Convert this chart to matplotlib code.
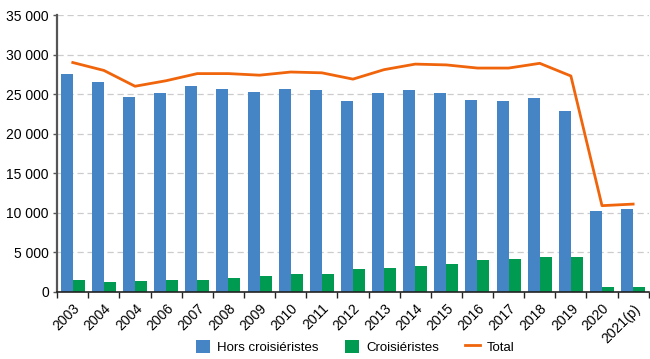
import matplotlib
matplotlib.use("Agg")
from matplotlib import pyplot as plt
from matplotlib.ticker import FuncFormatter
import numpy as np

plt.rcParams['font.family'] = ['Liberation Sans', 'DejaVu Sans']

years = ['2003', '2004', '2004', '2006', '2007', '2008', '2009', '2010', '2011', '2012',
         '2013', '2014', '2015', '2016', '2017', '2018', '2019', '2020', '2021(p)']
hors_croisieristes = [27500, 26600, 24600, 25200, 26000, 25700, 25300, 25600, 25500, 24100,
                      25100, 25500, 25200, 24300, 24100, 24500, 22900, 10200, 10500]
croisieristes = [1550, 1300, 1400, 1550, 1550, 1800, 2050, 2300, 2300, 2950,
                 3050, 3300, 3550, 4050, 4150, 4400, 4400, 650, 650]
total = [29000, 28000, 26000, 26700, 27600, 27600, 27400, 27800, 27700, 26900,
         28100, 28800, 28700, 28300, 28300, 28900, 27300, 10900, 11100]

blue = '#4585c6'
green = '#009a50'
orange = '#f0650c'

fig = plt.figure(figsize=(6.5, 3.59), dpi=100)
ax = fig.add_axes([0.088, 0.187, 0.91, 0.771])

x = np.arange(len(years))
w = 0.385
b1 = ax.bar(x - w / 2, hors_croisieristes, width=w, color=blue, label='Hors croisiéristes', zorder=2)
b2 = ax.bar(x + w / 2, croisieristes, width=w, color=green, label='Croisiéristes', zorder=2)
ln, = ax.plot(x, total, color=orange, lw=2, label='Total', zorder=3)

ax.set_xlim(-0.5, len(years) - 0.5)
ax.set_ylim(0, 35000)
ax.set_yticks(np.arange(0, 35001, 5000))
ax.yaxis.set_major_formatter(FuncFormatter(lambda v, p: f'{int(v):,}'.replace(',', ' ')))
ax.grid(axis='y', color='#cccccc', ls=(0, (5, 3)), lw=0.9, zorder=0)

ax.set_xticks(x)
ax.set_xticklabels(years, rotation=45, ha='right', rotation_mode='anchor')
ax.set_xticks(np.arange(-0.5, len(years), 1), minor=True)
ax.tick_params(axis='x', which='major', length=0, labelsize=10, pad=7)
ax.tick_params(axis='x', which='minor', length=4, width=1, color='#222222')
ax.tick_params(axis='y', length=3, width=1, labelsize=10, color='#555555', pad=3)

for s in ['top', 'right']:
    ax.spines[s].set_visible(False)
ax.spines['left'].set_color('#555555')
ax.spines['left'].set_linewidth(1.6)
ax.spines['bottom'].set_color('#222222')
ax.spines['bottom'].set_linewidth(1.2)

fig.legend([b1, b2, ln], ['Hors croisiéristes', 'Croisiéristes', 'Total'],
           loc='lower center', bbox_to_anchor=(0.546, 0.0), ncol=3, frameon=False,
           fontsize=9.5, handlelength=1.1, handleheight=1.1, columnspacing=2.0,
           handletextpad=0.5, borderaxespad=0.2, borderpad=0.2)

fig.savefig('out.png', dpi=100)
